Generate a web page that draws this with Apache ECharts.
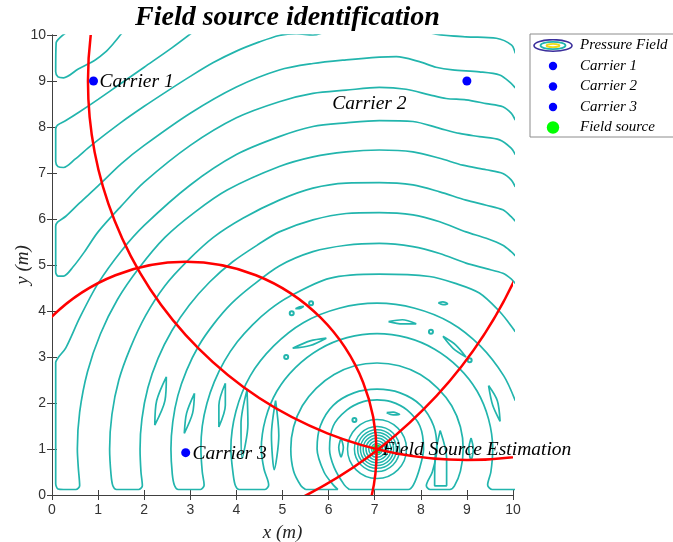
<!DOCTYPE html>
<html>
<head>
<meta charset="utf-8">
<script src="https://cdn.jsdelivr.net/npm/echarts/dist/echarts.min.js"></script>
<style>
  html, body { margin: 0; padding: 0; background: #fff; }
  #chart { width: 673px; height: 542px; }
</style>
</head>
<body>
<div id="chart"></div>
<script>
// axis ticks
const xTicks = [0, 1, 2, 3, 4, 5, 6, 7, 8, 9, 10];
const yTicks = [0, 1, 2, 3, 4, 5, 6, 7, 8, 9, 10];

// carriers, estimated source and the range circles
const carrierNames = ['Carrier 1', 'Carrier 2', 'Carrier 3'];
const carrierX = [0.9, 9.0, 2.9];
const carrierY = [9.0, 9.0, 0.92];
const rangeRadius = [10.1, 8.22, 4.14];
const sourceEst = [7.05, 1.0];

// annotations (text, anchor x, anchor y)
const noteText = ['Carrier 1', 'Carrier 2', 'Carrier 3', 'Field Source Estimation'];
const noteX = [1.03, 6.08, 3.05, 7.17];
const noteY = [8.99, 8.5, 0.89, 0.98];

// pressure field contours
const bandA = [[0.32,10.06],[0.18,9.95],[0.09,9.83],[0.08,9.2],[0.13,9.09],[0.25,9.07],[0.57,9.26],[0.93,9.45],[1.15,9.62],[1.32,9.8],[1.5,10.02],[1.55,10.08]];
const bandB = [[3.05,10.06],[2.6,9.72],[2.0,9.3],[1.5,8.95],[1.0,8.6],[0.6,8.33],[0.3,8.14],[0.12,8.04],[0.08,7.95],[0.08,7.25],[0.13,7.14],[0.25,7.12],[0.5,7.3],[0.85,7.6],[1.5,8.1],[2.0,8.45],[2.5,8.78],[3.0,9.1],[3.5,9.4],[4.0,9.65],[4.5,9.85],[4.93,9.99],[5.3,10.03],[5.66,10.0],[6.2,10.15],[7.5,10.2],[8.33,10.02],[8.98,9.96],[9.64,9.93],[9.97,9.78],[10.05,9.6]];
const bandC = [[10.05,8.85],[9.96,8.95],[9.71,9.13],[9.27,9.2],[8.69,9.24],[8.33,9.3],[7.97,9.42],[7.47,9.53],[7.1,9.52],[6.38,9.46],[5.66,9.38],[4.93,9.24],[4.0,8.87],[3.0,8.3],[2.0,7.6],[1.5,7.2],[1.0,6.72],[0.6,6.35],[0.3,6.06],[0.12,5.93],[0.08,5.84],[0.08,4.85],[0.13,4.76],[0.25,4.76],[0.45,4.95],[0.7,5.28],[1.0,5.72],[1.5,6.28],[2.0,6.8],[3.0,7.6],[4.0,8.2],[4.93,8.55],[5.66,8.73],[6.38,8.8],[7.1,8.86],[7.68,8.82],[8.19,8.7],[8.55,8.62],[8.98,8.59],[9.42,8.51],[9.78,8.44],[9.96,8.3],[10.05,8.15]];
const bandD = [[10.05,7.4],[9.96,7.54],[9.71,7.72],[9.27,7.79],[8.84,7.86],[8.41,7.97],[7.83,8.12],[7.1,8.14],[6.38,8.09],[5.66,8.01],[4.93,7.79],[4.0,7.4],[3.0,6.74],[2.0,5.86],[1.5,5.3],[1.0,4.6],[0.6,3.85],[0.3,3.2],[0.13,2.98],[0.08,2.88],[0.08,0.25],[0.13,0.13],[0.25,0.12],[0.52,0.12],[0.6,0.2],[0.57,0.6],[0.55,1.0],[0.6,1.8],[0.77,2.68],[1.05,3.5],[1.42,4.25],[1.9,4.95],[2.45,5.6],[3.1,6.15],[3.8,6.63],[4.93,7.14],[5.66,7.35],[6.38,7.46],[7.1,7.5],[7.83,7.46],[8.41,7.32],[8.91,7.17],[9.42,7.07],[9.78,6.99],[9.96,6.85],[10.05,6.7]];
const bandFG = [[10.05,5.95],[9.96,6.05],[9.78,6.2],[9.42,6.3],[8.98,6.41],[8.41,6.59],[7.83,6.74],[7.1,6.79],[6.38,6.78],[5.66,6.67],[4.93,6.41],[4.15,6.02],[3.5,5.6],[2.95,5.1],[2.45,4.55],[2.03,3.9],[1.7,3.2],[1.45,2.5],[1.3,1.75],[1.25,1.0],[1.28,0.45],[1.32,0.2],[1.4,0.12],[1.88,0.12],[1.96,0.2],[1.93,0.5],[1.91,1.0],[1.95,1.65],[2.08,2.33],[2.3,2.97],[2.6,3.57],[2.98,4.13],[3.42,4.63],[3.92,5.07],[4.48,5.45],[4.93,5.72],[5.66,5.98],[6.38,6.12],[7.1,6.14],[7.83,6.09],[8.41,5.94],[8.98,5.72],[9.42,5.58],[9.78,5.43],[9.96,5.29],[10.05,5.2]];
const bandHI = [[10.05,4.6],[9.96,4.7],[9.78,4.82],[9.42,4.92],[8.98,5.04],[8.41,5.25],[7.83,5.4],[7.1,5.47],[6.38,5.43],[5.66,5.29],[4.93,4.98],[4.33,4.54],[3.89,4.16],[3.51,3.72],[3.18,3.24],[2.92,2.71],[2.73,2.16],[2.62,1.59],[2.58,1.0],[2.61,0.45],[2.66,0.2],[2.74,0.12],[3.22,0.12],[3.3,0.22],[3.26,0.5],[3.23,1.0],[3.26,1.5],[3.36,1.99],[3.52,2.46],[3.74,2.91],[4.02,3.33],[4.35,3.7],[4.72,4.03],[5.14,4.31],[6.02,4.71],[7.1,4.8],[8.19,4.75],[8.75,4.6],[9.27,4.39],[9.7,4.0],[9.92,3.73],[10.05,3.55]];
const bandJK = [[10.05,2.05],[9.8,2.59],[9.29,3.24],[8.64,3.75],[7.87,4.06],[7.05,4.17],[6.23,4.06],[5.46,3.75],[4.81,3.24],[4.3,2.59],[3.99,1.82],[3.88,1.0],[3.93,0.45],[3.98,0.2],[4.06,0.12],[4.62,0.12],[4.7,0.22],[4.6,0.56],[4.54,1.0],[4.63,1.65],[4.88,2.26],[5.28,2.77],[5.8,3.17],[6.4,3.42],[7.05,3.51],[7.7,3.42],[8.3,3.17],[8.82,2.77],[9.22,2.26],[9.47,1.65],[9.56,1.0],[9.52,0.5],[9.45,0.22],[9.55,0.12],[10.05,0.12]];
const bandLN = [[5.5,0.12],[5.4,0.2],[5.24,0.52],[5.18,1.0],[5.24,1.48],[5.43,1.94],[5.73,2.32],[6.12,2.62],[6.57,2.81],[7.05,2.87],[7.53,2.81],[7.99,2.62],[8.37,2.32],[8.67,1.94],[8.86,1.48],[8.92,1.0],[8.86,0.52],[8.73,0.2],[8.63,0.12],[8.2,0.12],[8.12,0.2],[8.25,0.5],[8.35,1.0],[8.28,1.5],[8.0,1.95],[7.55,2.22],[7.05,2.3],[6.55,2.22],[6.1,1.95],[5.82,1.5],[5.75,1.0],[5.9,0.5],[6.1,0.22],[6.2,0.12],[5.5,0.12]];
const loopU = [[6.45,0.12],[6.34,0.22],[6.12,0.6],[6.02,1.0],[6.1,1.5],[6.4,1.85],[6.75,2.03],[7.05,2.07],[7.35,2.03],[7.7,1.85],[7.98,1.5],[8.06,1.0],[7.98,0.6],[7.84,0.22],[7.73,0.12],[6.45,0.12]];
const islandA = [[2.48,2.57],[2.45,2.05],[2.23,1.52],[2.27,2.05],[2.48,2.57]];
const islandB = [[3.09,2.21],[3.05,1.78],[2.87,1.34],[2.92,1.78],[3.09,2.21]];
const islandC = [[3.76,2.43],[3.76,1.95],[3.62,1.48],[3.62,1.95],[3.76,2.43]];
const islandD = [[4.23,2.28],[4.25,1.55],[4.12,0.8],[4.1,1.55],[4.23,2.28]];
const islandE = [[4.85,2.05],[4.92,1.3],[4.82,0.55],[4.76,1.3],[4.85,2.05]];
const islandF = [[6.27,1.24],[6.32,1.03],[6.27,0.83],[6.22,1.03],[6.27,1.24]];
const islandG = [[9.09,1.24],[9.14,1.0],[9.09,0.76],[9.04,1.0],[9.09,1.24]];
const islandH = [[7.3,3.77],[7.6,3.81],[7.9,3.72],[7.6,3.72],[7.3,3.77]];
const islandI = [[5.22,3.19],[5.6,3.35],[5.95,3.41],[5.6,3.25],[5.22,3.19]];
const islandJ = [[8.48,3.45],[8.76,3.26],[8.98,3.0],[8.7,3.19],[8.48,3.45]];
const islandK = [[7.26,1.79],[7.4,1.8],[7.54,1.75],[7.4,1.74],[7.26,1.79]];
const islandL = [[5.28,4.05],[5.37,4.09],[5.46,4.1],[5.37,4.05],[5.28,4.05]];
const islandM = [[8.38,4.18],[8.48,4.2],[8.58,4.16],[8.48,4.14],[8.38,4.18]];
const islandN = [[9.47,2.38],[9.66,2.05],[9.72,1.6],[9.56,1.95],[9.47,2.38]];
const islandO = [[8.42,1.4],[8.56,0.8],[8.56,0.2],[8.3,0.2],[8.31,0.8],[8.42,1.4]];
const fieldDotX = [5.62, 5.2, 8.22, 5.08, 9.06, 6.56];
const fieldDotY = [4.17, 3.95, 3.55, 3.0, 2.93, 1.63];
// closed rings round the source
const ringRadius = [0.06, 0.12, 0.18, 0.24, 0.3, 0.36, 0.42, 0.49, 0.64];

const contourPaths = [bandA, bandB, bandC, bandD, bandFG, bandHI, bandJK, bandLN, loopU,
  islandA, islandB, islandC, islandD, islandE, islandF, islandG, islandH, islandI,
  islandJ, islandK, islandL, islandM, islandN, islandO];

const TEAL = '#22b5ad';
const serif = 'Liberation Serif';

function svgIcon(body) {
  const svg = "<svg xmlns='http://www.w3.org/2000/svg' width='44' height='14'>" + body + '</svg>';
  return 'image://data:image/svg+xml;charset=utf-8,' + encodeURIComponent(svg);
}
const fieldIcon = svgIcon(
  "<ellipse cx='22' cy='7' rx='19' ry='5.8' fill='none' stroke='#3b2f9c' stroke-width='1.6'/>" +
  "<ellipse cx='22' cy='7' rx='12.5' ry='3.6' fill='none' stroke='#22b5ad' stroke-width='1.8'/>" +
  "<ellipse cx='22' cy='7' rx='6.5' ry='1.7' fill='none' stroke='#efdc1a' stroke-width='1.8'/>");
const carrierIcon = svgIcon("<circle cx='22' cy='7' r='4.2' fill='#0000ff'/>");
const sourceIcon = svgIcon("<circle cx='22' cy='7' r='6.2' fill='#00ff00'/>");

const chart = echarts.init(document.getElementById('chart'), null, { renderer: 'canvas' });

const axisCommon = {
  type: 'value', min: 0, max: 10, interval: 1,
  axisLine: { show: true, lineStyle: { color: '#404040', width: 1 } },
  axisTick: { show: true, inside: true, length: 5, lineStyle: { color: '#404040' } },
  splitLine: { show: false }
};

const series = [];

// field source marker, under the contours
series.push({
  name: 'Field source', type: 'scatter', data: [sourceEst],
  symbol: 'circle', symbolSize: 9, itemStyle: { color: '#00ff00', opacity: 1 }, z: 1, silent: true
});

contourPaths.forEach(p => {
  series.push({
    name: 'Pressure Field', type: 'line', data: p,
    smooth: 0.3, symbol: 'none', showSymbol: false,
    lineStyle: { color: TEAL, width: 1.7 },
    itemStyle: { color: TEAL }, z: 2, silent: true, animation: false
  });
});

series.push({
  name: 'Pressure Field', type: 'custom',
  data: ringRadius.map(r => [sourceEst[0], sourceEst[1], r]),
  encode: { x: 0, y: 1 }, z: 2, silent: true,
  renderItem: (params, api) => {
    const c = api.coord([api.value(0), api.value(1)]);
    const r = api.size([api.value(2), 0])[0];
    return { type: 'circle', shape: { cx: c[0], cy: c[1], r: r },
      style: { fill: 'none', stroke: TEAL, lineWidth: 1.5 } };
  }
});

series.push({
  name: 'Pressure Field', type: 'scatter',
  data: fieldDotX.map((x, i) => [x, fieldDotY[i]]),
  symbol: 'emptyCircle', symbolSize: 4,
  itemStyle: { color: TEAL, borderColor: TEAL, borderWidth: 1.5, opacity: 1 }, z: 2, silent: true
});

// annotation texts
series.push({
  name: 'notes', type: 'scatter', symbolSize: 0, z: 3, silent: true,
  itemStyle: { opacity: 1 },
  data: noteText.map((t, i) => ({ name: t, value: [noteX[i], noteY[i]] })),
  label: {
    show: true, position: 'right', distance: 0, formatter: '{b}', opacity: 1,
    fontFamily: serif, fontStyle: 'italic', fontSize: 19.5, color: '#000'
  }
});

// range circles around each carrier
series.push({
  name: 'ranges', type: 'custom', z: 4, silent: true,
  data: carrierX.map((x, i) => [x, carrierY[i], rangeRadius[i]]),
  encode: { x: 0, y: 1 },
  renderItem: (params, api) => {
    const c = api.coord([api.value(0), api.value(1)]);
    const r = api.size([api.value(2), 0])[0];
    const cs = params.coordSys;
    return { type: 'circle', shape: { cx: c[0], cy: c[1], r: r },
      style: { fill: 'none', stroke: '#ff0000', lineWidth: 2.5 },
      clipPath: { type: 'rect', shape: { x: cs.x, y: cs.y, width: cs.width, height: cs.height } } };
  }
});

carrierNames.forEach((n, i) => {
  series.push({
    name: n, type: 'scatter', data: [[carrierX[i], carrierY[i]]],
    symbol: 'circle', symbolSize: 9, itemStyle: { color: '#0000ff', opacity: 1 }, z: 5, silent: true
  });
});

chart.setOption({
  animation: false,
  backgroundColor: '#ffffff',
  title: {
    text: 'Field source identification', left: 135, top: 4, padding: 0,
    textStyle: { fontFamily: serif, fontStyle: 'italic', fontWeight: 'bold', fontSize: 28, color: '#000' }
  },
  grid: { left: 52, top: 35, width: 461, height: 460, outerBoundsMode: 'none' },
  legend: {
    orient: 'vertical', left: 530, top: 34, selectedMode: false,
    padding: [4, 6, 2, 1], itemGap: 5.5, itemWidth: 44, itemHeight: 14,
    borderColor: '#8c8c8c', borderWidth: 1, backgroundColor: '#fff',
    textStyle: { fontFamily: serif, fontStyle: 'italic', fontSize: 15, color: '#000' },
    data: [
      { name: 'Pressure Field', icon: fieldIcon },
      { name: 'Carrier 1', icon: carrierIcon },
      { name: 'Carrier 2', icon: carrierIcon },
      { name: 'Carrier 3', icon: carrierIcon },
      { name: 'Field source', icon: sourceIcon }
    ]
  },
  xAxis: [
    Object.assign({}, axisCommon, {
      position: 'bottom',
      name: 'x (m)', nameLocation: 'middle', nameGap: 28, nameMoveOverlap: false,
      nameTextStyle: { fontFamily: serif, fontStyle: 'italic', fontSize: 19, color: '#262626' },
      axisLabel: { fontFamily: 'Liberation Sans', fontSize: 14, color: '#333', margin: 8,
        formatter: v => xTicks.includes(v) ? String(v) : '' }
    }),
    Object.assign({}, axisCommon, { position: 'top', axisLabel: { show: false } })
  ],
  yAxis: [
    Object.assign({}, axisCommon, {
      position: 'left',
      name: 'y (m)', nameLocation: 'middle', nameGap: 20, nameMoveOverlap: false,
      nameTextStyle: { fontFamily: serif, fontStyle: 'italic', fontSize: 19, color: '#262626' },
      axisLabel: { fontFamily: 'Liberation Sans', fontSize: 14, color: '#333', margin: 6,
        formatter: v => yTicks.includes(v) ? String(v) : '' }
    }),
    Object.assign({}, axisCommon, { position: 'right', axisLabel: { show: false } })
  ],
  series: series
});
</script>
</body>
</html>
